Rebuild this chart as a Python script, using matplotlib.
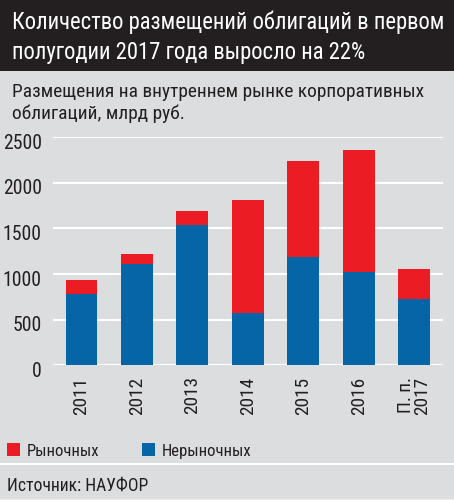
import matplotlib
matplotlib.use("Agg")
import matplotlib.pyplot as plt
from matplotlib.patches import Rectangle, Patch
from matplotlib.lines import Line2D
from matplotlib.transforms import ScaledTranslation
from matplotlib import font_manager as fm
from matplotlib.ft2font import FT2Font
import numpy as np

categories = ["2011", "2012", "2013", "2014", "2015", "2016", "П. п.\n2017"]
nonmarket = [782, 1107, 1542, 570, 1188, 1023, 724]      # Нерыночных (blue, bottom)
market = [153, 114, 150, 1239, 1049, 1338, 329]          # Рыночных (red, top)
yticks = [0, 500, 1000, 1500, 2000, 2500]

title_lines = ["Количество размещений облигаций в первом",
               "полугодии 2017 года выросло на 22%"]
subtitle_lines = ["Размещения на внутреннем рынке корпоративных",
                  "облигаций, млрд руб."]
source = "Источник: НАУФОР"
legend_labels = ["Рыночных", "Нерыночных"]

RED = "#ec1c24"
BLUE = "#0565a6"
BG = "#dcdddf"
DARK = "#231f20"


def pick_font():
    for name in ["Roboto Condensed", "PT Sans Narrow", "Fira Sans Condensed",
                 "Open Sans Condensed", "Liberation Sans Narrow"]:
        try:
            path = fm.findfont(fm.FontProperties(family=name), fallback_to_default=False)
            cmap = FT2Font(path).get_charmap()
            if all(ord(c) in cmap for c in "ЫФжщ%"):
                return name
        except Exception:
            continue
    return "DejaVu Sans"


FONT = [pick_font(), "DejaVu Sans"]
plt.rcParams["font.family"] = FONT

W, H = 454, 500
fig = plt.figure(figsize=(W / 100, H / 100), dpi=100, facecolor=BG)
renderer = fig.canvas.get_renderer()


def fit(s, target, dim="w", rot=0):
    t = fig.text(0, 0, s, fontsize=20, rotation=rot)
    bb = t.get_window_extent(renderer)
    t.remove()
    size = bb.width if dim == "w" else bb.height
    return 20 * target / size


def px(x, y):
    return x / W, 1 - y / H


# title band
fig.patches.append(Rectangle((0, 1 - 71 / H), 1, 71 / H, transform=fig.transFigure,
                             facecolor=DARK, edgecolor="none", zorder=0))
fs_title = fit(title_lines[0], 431)
for line, base in zip(title_lines, [29, 59]):
    fig.text(*px(12, base), line, color="white", fontsize=fs_title, ha="left", va="baseline")
fs_sub = fit(subtitle_lines[0], 413)
for line, base in zip(subtitle_lines, [97, 119]):
    fig.text(*px(12, base), line, color=DARK, fontsize=fs_sub, ha="left", va="baseline")

# separators
fig.add_artist(Line2D([0, 1], [1 - 464 / H] * 2, transform=fig.transFigure,
                      color="white", lw=1.5))
fig.add_artist(Line2D([0, 1], [1 - 498.5 / H] * 2, transform=fig.transFigure,
                      color="#eeeeee", lw=1.0))
fs_src = fit(source, 141)
fig.text(*px(7, 491), source, color=DARK, fontsize=fs_src, ha="left", va="baseline")

# axes
left, right = 53 / W, 443 / W
bottom, top = 1 - 365.3 / H, 1 - 137.3 / H
ax = fig.add_axes([left, bottom, right - left, top - bottom])
ax.set_facecolor("none")
x = np.arange(len(categories))
ax.bar(x, nonmarket, width=0.575, color=BLUE, zorder=3, label=legend_labels[1])
ax.bar(x, market, width=0.575, bottom=nonmarket, color=RED, zorder=3, label=legend_labels[0])
ax.set_xlim(-0.515, len(categories) - 1 + 0.52)
ax.set_ylim(0, 2500)
ax.set_yticks(yticks)
ax.set_yticklabels([str(t) for t in yticks])
ax.yaxis.grid(True, color="white", lw=1.5, zorder=0)
ax.set_axisbelow(True)
for s in ax.spines.values():
    s.set_visible(False)
fs_y = fit("2500", 39)
fs_x = fit("2011", 38, dim="h", rot=90)
ax.tick_params(axis="both", length=0, colors=DARK)
ax.tick_params(axis="y", pad=8, labelsize=fs_y)
ax.tick_params(axis="x", pad=8, labelsize=fs_x)
ax.set_xticks(x)
ax.set_xticklabels(categories, rotation=90, va="top", ha="center", linespacing=0.85)
for lab in ax.get_yticklabels():
    lab.set_transform(lab.get_transform() + ScaledTranslation(0, -4 / 100, fig.dpi_scale_trans))

fs_leg = fit(legend_labels[0], 72)
em = fs_leg * 100 / 72.0
fig.legend(handles=[Patch(facecolor=RED, label=legend_labels[0]),
                    Patch(facecolor=BLUE, label=legend_labels[1])],
           loc="center left", bbox_to_anchor=px(7, 451), ncol=2, frameon=False,
           borderpad=0, borderaxespad=0,
           fontsize=fs_leg, handlelength=13 / em, handleheight=13 / em,
           handletextpad=7 / em, columnspacing=42 / em, labelcolor=DARK)

fig.savefig("out.png", dpi=100, facecolor=BG)
